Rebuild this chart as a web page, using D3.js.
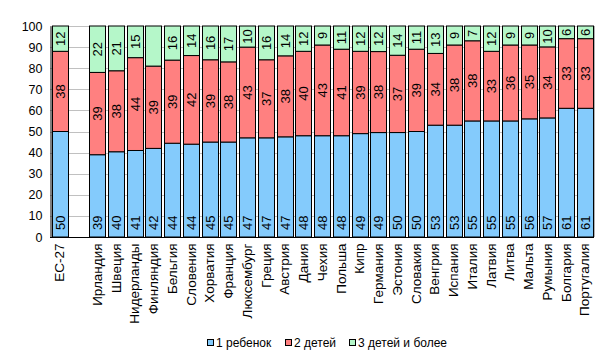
<!DOCTYPE html>
<html>
<head>
<meta charset="utf-8">
<script src="https://cdn.jsdelivr.net/npm/d3@7"></script>
<style>
  body { margin: 0; background: #fff; }
  text { font-family: Arial, "Liberation Sans", sans-serif; }
</style>
</head>
<body>
<div id="chart"></div>
<script>
// data
const categories = ['ЕС-27', '', 'Ирландия', 'Швеция', 'Нидерланды', 'Финляндия', 'Бельгия', 'Словения',
  'Хорватия', 'Франция', 'Люксембург', 'Греция', 'Австрия', 'Дания', 'Чехия', 'Польша', 'Кипр',
  'Германия', 'Эстония', 'Словакия', 'Венгрия', 'Испания', 'Италия', 'Латвия', 'Литва', 'Мальта',
  'Румыния', 'Болгария', 'Португалия'];
const oneChild = [50, null, 39, 40, 41, 42, 44, 44, 45, 45, 47, 47, 47, 48, 48, 48, 49, 49, 50, 50, 53, 53, 55, 55, 55, 56, 57, 61, 61];
const twoChildren = [38, null, 39, 38, 44, 39, 39, 42, 39, 38, 43, 37, 38, 40, 43, 41, 39, 38, 37, 39, 34, 38, 38, 33, 36, 35, 34, 33, 33];
const threePlus = [12, null, 22, 21, 15, 19, 16, 14, 16, 17, 10, 16, 14, 12, 9, 11, 12, 12, 14, 11, 13, 9, 7, 12, 9, 9, 10, 6, 6];
const noLabel = ['Финляндия']; // third segment has no value label in the source
const seriesNames = ['1 ребенок', '2 детей', '3 детей и более'];
const colors = ['#84CBFC', '#FF8080', '#B5F7C9'];
const yTicks = [0, 10, 20, 30, 40, 50, 60, 70, 80, 90, 100];

const w = 609, h = 361;
const m = { left: 50, right: 594, top: 26, bottom: 237 };

const svg = d3.select('#chart').append('svg')
  .attr('width', w)
  .attr('height', h);

const x = d3.scaleBand()
  .domain(d3.range(categories.length))
  .range([m.left, m.right])
  .paddingInner(0.17)
  .paddingOuter(0.085);

const y = d3.scaleLinear()
  .domain([0, 100])
  .range([m.bottom, m.top]);

// grid
svg.append('g').selectAll('line')
  .data(yTicks.slice(1))
  .enter().append('line')
  .attr('x1', m.left).attr('x2', m.right)
  .attr('y1', d => Math.round(y(d)) + 0.5)
  .attr('y2', d => Math.round(y(d)) + 0.5)
  .attr('stroke', '#c0c0c0');

svg.append('line')
  .attr('x1', m.right + 0.5).attr('x2', m.right + 0.5)
  .attr('y1', m.top).attr('y2', m.bottom)
  .attr('stroke', '#b0b0b0');

// stacked (100%) rows
const rows = categories.map((c, i) => ({ c, i, v: [oneChild[i], twoChildren[i], threePlus[i]] }))
  .filter(r => r.v[0] != null);

rows.forEach(r => {
  const total = d3.sum(r.v);
  let acc = 0;
  r.v.forEach((v, k) => {
    const y0 = acc / total * 100;
    acc += v;
    const y1 = acc / total * 100;
    const bx = x(r.i);
    svg.append('rect')
      .attr('x', Math.round(bx) + 0.5)
      .attr('y', y(y1))
      .attr('width', Math.round(x.bandwidth()))
      .attr('height', y(y0) - y(y1))
      .attr('fill', colors[k])
      .attr('stroke', '#000')
      .attr('stroke-width', 1);

    if (k === 2 && noLabel.includes(r.c)) return;
    const cx = Math.round(bx) + 0.5 + Math.round(x.bandwidth()) / 2;
    const ty = k === 0 ? m.bottom - 7 : (y(y0) + y(y1)) / 2;
    svg.append('text')
      .attr('transform', 'translate(' + cx + ',' + ty + ') rotate(-90)')
      .attr('text-anchor', k === 0 ? 'start' : 'middle')
      .attr('dy', '0.36em')
      .attr('font-size', 13)
      .attr('fill', '#000')
      .text(v);
  });
});

// axes
const yAxis = svg.append('g')
  .attr('transform', 'translate(' + (m.left + 0.5) + ',0)')
  .call(d3.axisLeft(y).tickValues(yTicks).tickSize(0).tickPadding(8));
yAxis.select('.domain').attr('stroke', '#000');
yAxis.selectAll('text').attr('font-size', 12.5).attr('fill', '#000')
  .style('font-family', 'Arial, "Liberation Sans", sans-serif');

const xAxis = svg.append('g')
  .attr('transform', 'translate(0,' + (m.bottom + 0.5) + ')')
  .call(d3.axisBottom(x).tickFormat(i => categories[i]).tickSize(0).tickPadding(0));
xAxis.select('.domain').attr('stroke', '#000').attr('d', 'M' + m.left + ',0H' + m.right);
xAxis.selectAll('text')
  .attr('font-size', 13.5)
  .attr('fill', '#000')
  .style('font-family', 'Arial, "Liberation Sans", sans-serif')
  .attr('text-anchor', 'end')
  .attr('dy', '0.36em')
  .attr('transform', 'translate(0,6) rotate(-90)')
  .attr('y', 0)
  .attr('x', 0);

// legend
const legendX = [207, 285, 349];
const legend = svg.append('g').selectAll('g')
  .data(seriesNames)
  .enter().append('g')
  .attr('transform', (d, i) => 'translate(' + legendX[i] + ',343)');
legend.append('rect')
  .attr('x', 0.5).attr('y', -3.5)
  .attr('width', 6).attr('height', 6)
  .attr('fill', (d, i) => colors[i])
  .attr('stroke', '#000');
legend.append('text')
  .attr('x', 9)
  .attr('dy', '0.36em')
  .attr('font-size', 12)
  .attr('fill', '#000')
  .text(d => d);
</script>
</body>
</html>
